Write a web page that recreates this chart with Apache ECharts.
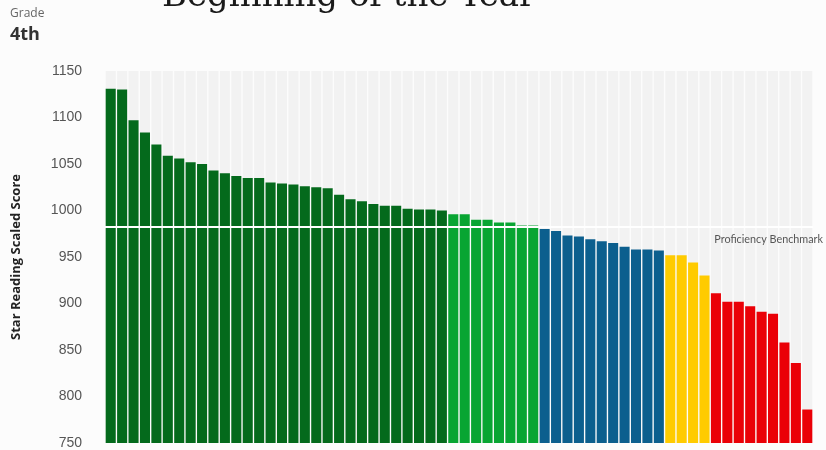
<!DOCTYPE html>
<html>
<head>
<meta charset="utf-8">
<script src="https://cdn.jsdelivr.net/npm/echarts@6/dist/echarts.min.js"></script>
<style>
html,body{margin:0;padding:0;background:#fcfcfc;}
#chart{width:826px;height:450px;}
</style>
</head>
<body>
<div id="chart"></div>
<script>
// Scores per performance group (sorted descending)
var darkGreenScores = [1131,1130,1097,1084,1071,1059,1056,1052,1050,1043,1040,1037,1035,1035,1030,1029,1028,1026,1025,1024,1017,1012,1010,1007,1005,1005,1002,1001,1001,1000];
var lightGreenScores = [996,996,990,990,987,987,984,984];
var blueScores = [980,978,973,972,969,967,965,961,958,958,957];
var yellowScores = [952,952,944,930];
var redScores = [911,902,902,897,891,889,858,836,786];
var groupColors = ['#046a1c','#08a532','#0c5f8e','#ffcb00','#ea0007'];
var benchmark = 982;
var yTicks = [750,800,850,900,950,1000,1050,1100,1150];

var groups = [darkGreenScores, lightGreenScores, blueScores, yellowScores, redScores];
var barData = [];
var categories = [];
groups.forEach(function(g, gi){
  g.forEach(function(v){
    categories.push('S' + (categories.length + 1));
    barData.push({value: v, itemStyle: {color: groupColors[gi]}});
  });
});

var chart = echarts.init(document.getElementById('chart'), null, {renderer:'canvas'});
chart.setOption({
  backgroundColor: '#fcfcfc',
  animation: false,
  title: {
    text: 'Beginning of the Year',
    left: 157,
    top: -25,
    textStyle: {fontFamily: 'DejaVu Serif', fontSize: 34, fontWeight: 'normal', color: '#1a1a1a'}
  },
  graphic: [
    {type:'text', left: 10, top: 8, style:{text:'Grade', font:'12px "Open Sans"', fill:'#666'}},
    {type:'text', left: 10, top: 26, style:{text:'4th', font:'bold 18px "Open Sans"', fill:'#333'}}
  ],
  grid: {left: 105, right: 13, top: 71, bottom: 6, containLabel: false},
  xAxis: {
    type: 'category',
    data: categories,
    axisLine: {show:false}, axisTick: {show:false}, axisLabel: {show:false},
    splitLine: {show:false}
  },
  yAxis: {
    type: 'value',
    min: yTicks[0], max: yTicks[yTicks.length-1], interval: 50,
    name: 'Star Reading Scaled Score',
    nameLocation: 'middle',
    nameGap: 82,
    nameRotate: 90,
    nameTextStyle: {fontFamily:'Open Sans', fontWeight:'bold', fontSize:13, color:'#222'},
    axisLine: {show:false}, axisTick: {show:false},
    splitLine: {show:false},
    axisLabel: {margin: 23, color:'#555', fontSize: 14, fontFamily: 'Liberation Sans',
      formatter: function(v){ return String(v); }}
  },
  series: [{
    type: 'bar',
    data: barData,
    barCategoryGap: '12%',
    showBackground: true,
    backgroundStyle: {color: '#f2f2f2'},
    markLine: {
      silent: true,
      symbol: 'none',
      lineStyle: {color:'#ffffff', width: 2, type:'solid'},
      label: {
        show: true,
        position: 'insideEndBottom',
        formatter: 'Proficiency Benchmark',
        color: '#555',
        fontSize: 10.8,
        fontFamily: 'Lato',
        offset: [15, 2]
      },
      data: [{yAxis: benchmark}]
    }
  }]
});
</script>
</body>
</html>
